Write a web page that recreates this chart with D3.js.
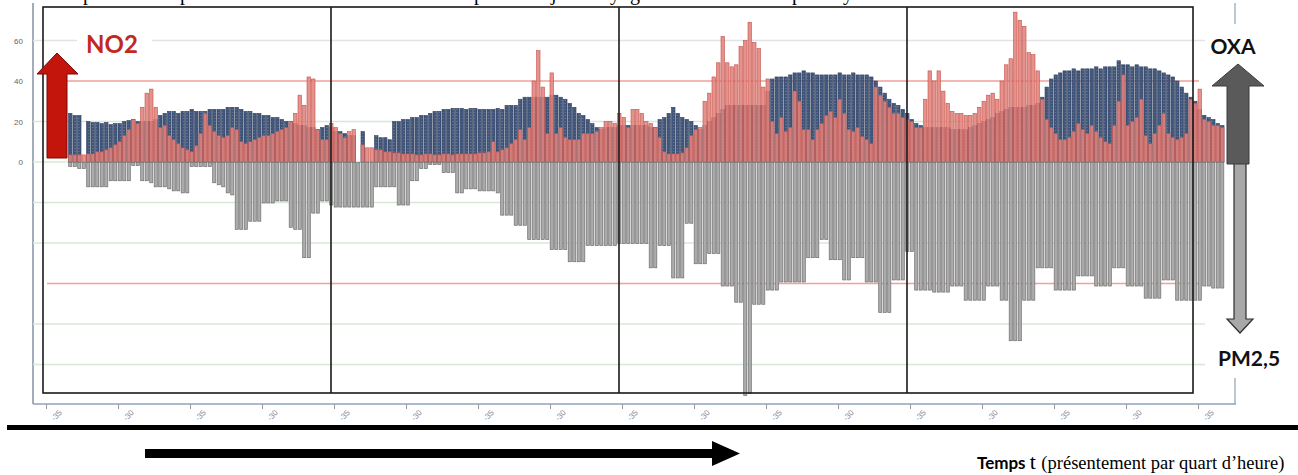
<!DOCTYPE html>
<html><head><meta charset="utf-8">
<script src="https://cdn.jsdelivr.net/npm/d3@7"></script>
<style>html,body{margin:0;padding:0;background:#fff;overflow:hidden}</style>
</head><body>
<svg id="chart" width="1298" height="475"></svg>
<script>
// ---- DATA (one value per quarter-hour bar) ----
const no2 = [
 null,null,null,null,null,3.5,3.5,3.5,3.5,4,4,5,5,6,7,8.5,
 10,13,16,21,19,27,34,36,27,17,18,13,11,9,7,6,
 5,8,14,24,18,15,13,12,13,17,16,10,9,10,11,12,
 13,13,14,15,16,17,20,24,33,28,42,41,16,11,11,19,
 17,14,12,15,16,null,8.5,7,7,6,6,5,5,4.5,4.5,4,
 4,4,3.5,3.5,4,4,3.5,3.5,4,4,3.5,4,4,4,4,4,
 4.5,4.5,5,10,5,6,7,9,11,16,11,17,40,55,37,14,
 44,14,17,12,11,11,11,14,14,14,15,17,20,20,19,24,
 22,17,26,26,24,20,19,17,12,5,4,4,4,4.5,7,13,
 16,17,30,34,42,49,62,49,47,48,57,60,69,59,56,37,
 41,20,14,22,15,17,35,30,16,16,11,16,19,23,25,22,
 31,24,16,15,17,12.5,11,9,37,33,30,27,24,24,22,21,
 20,17,17,31,45,40,45,35,29,25,24,24,23,23,24,27,
 30,33,34,31,40,48,51,74,70,67,54,53,45,31,21,17,
 14,11,11,12,15,19,16,14,18,15,12,10,9,18,30,43,
 18,20,22,31,13,9,14,18,24,14,12,11,12,14,31,29,
 36,21,20,18,18,17
];
const oxa = [
 null,null,null,null,null,24,23,23,null,20,19.5,19.5,19,19.5,18.5,19,
 19,20,20.5,21,20,20,20,20,21,23,24,25,25,24,25,25,
 26,25,25,25,26,26,26,26,27,27,27,26,25,25,24,24,
 23,23,22,22,21,20,20,19,18,18,17,17,16,17,18,17,
 15,15,14,13,13,null,15,null,null,13,12,12,11,20,20,21,
 21,22,22,23,23,24,25,25,26,26,26.5,26.5,26.5,26,26.5,26.5,
 26,26,26,26,26.5,26,28,28,28,31,32,32,32,32,32,32,
 33,33,32,31,29,27,24,23,21,19,17,16,17,17,17,18,
 18,18,18,18,18,18,17,17,21,22,24,27,24,22,21,20,
 18,16,18,20,22,24,26,28,28,28,28,28,28,28,28,28,
 35,41,42,42,42,43,44,44,45,44,44,43,43,43,43,43,
 44,43,43,44,43,43,43,42,40,37,34,31,29,28,26,24,
 21,19,18,17,17,17,17,17,17,16,16,16,16,17,18,19,
 20,21,22,24,25,26,27,27,27,27,28,28,29,32,37,41,
 43,44,45,45,46,45,46,46,46,47,46,47,47,47,50,48,
 48,47,48,47,47,46,46,45,44,43,42,40,37,34,32,30,
 26,23,22,21,19,18
];
const pm25 = [
 null,null,null,null,null,2,2,3,3,12,12,12,12,12,9,9,
 9,9,9,1.5,1.5,9,9,10,12,12,12,13,14,14,15,15,
 2,2,2,2,2,10,11,12,15,16,33,33,33,29,29,29,
 20,20,20,19,19,19,32,33,33,47,47,25,25,19,19,21,
 22,22,22,22,22,22,22,22,22,12,12,12,12,12,21,21,
 21,9,9,3,3,1,1,1,5,5,5,15,15,13,13,13,
 14,14,14,14,15,26,26,26,31,31,31,38,38,38,38,38,
 43,43,43,43,49,49,49,49,41,41,41,41,41,41,41,40,
 40,40,40,40,40,40,52,52,41,41,41,57,57,57,30,30,
 50,50,50,45,45,45,61,61,61,69,69,115,114,70,70,70,
 63,63,63,59,59,59,59,59,59,47,47,47,38,38,48,48,
 48,58,58,47,47,47,59,59,59,74,74,74,58,58,58,44,
 44,63,63,63,63,64,64,64,64,61,61,61,68,68,68,68,
 68,61,61,61,68,68,88,88,88,68,68,68,52,52,52,52,
 63,63,63,63,63,56,56,56,56,61,61,61,61,52,52,52,
 61,61,61,61,67,67,67,67,58,58,58,68,68,68,68,68,
 68,61,61,62,62,62
];
const yTickValues = [60, 40, 20, 0];
const gridValues = [60, 20, 0, -20, -40, -80, -100];
const limitValues = [40, -60];
const xTickIndex = d3.range(0, 257, 16);
const xTickLabels = xTickIndex.map((d,i) => (i % 2 === 0 ? "-35" : "-30"));
const dividerIndex = [64, 128, 192];
const topGlyphs = ["p","p","p","j","y","g","p","y"];
const topGlyphX = [83,180,474,551,610,630,792,843];

// ---- SCALES ----
const svg = d3.select("#chart");
const N = no2.length;
const step = 4.5, x0 = 46;
const x = d3.scaleBand().domain(d3.range(N)).range([x0, x0 + step * (N - 0.22)]).paddingInner(0.22).paddingOuter(0);
const xl = d3.scaleLinear().domain([0, N]).range([x0, x0 + step * N]);
const y = d3.scaleLinear().domain([-100, 60]).range([364.5, 40.5]);

// dotted texture for the OXA bars
const defs = svg.append("defs");
const pat = defs.append("pattern").attr("id","dots").attr("patternUnits","userSpaceOnUse")
  .attr("width",3.5).attr("height",3);
pat.append("rect").attr("width",3.5).attr("height",3).attr("fill","#42567b");
pat.append("circle").attr("cx",1.75).attr("cy",1.5).attr("r",0.55).attr("fill","#7f91b0");

// cut-off title line at the very top
svg.append("g").selectAll("text").data(topGlyphs).join("text")
  .attr("x", (d,i) => topGlyphX[i]).attr("y", 0)
  .attr("font-family", "Liberation Serif").attr("font-size", 20).attr("fill", "#000").text(d => d);

// original chart axis frame
const axisCol = "#8ea3b8";
svg.append("line").attr("x1",33).attr("x2",33).attr("y1",3).attr("y2",404).attr("stroke","#6f8296").attr("stroke-width",1.3);
svg.append("line").attr("x1",33).attr("x2",1236).attr("y1",404).attr("y2",404).attr("stroke",axisCol).attr("stroke-width",1.3);
svg.append("line").attr("x1",1235).attr("x2",1235).attr("y1",3).attr("y2",404).attr("stroke",axisCol).attr("stroke-width",1.2);

// grid
svg.append("g").selectAll("line").data(gridValues).join("line")
  .attr("x1",33).attr("x2",1205).attr("y1",d=>y(d)).attr("y2",d=>y(d))
  .attr("stroke", d => d === 60 ? "#e3e3e3" : "#d8e8d6").attr("stroke-width",1.3);
svg.append("g").selectAll("line").data(limitValues).join("line")
  .attr("x1",47).attr("x2",1199).attr("y1",d=>y(d)).attr("y2",d=>y(d))
  .attr("stroke","#f1a19b").attr("stroke-width",1.3);

// y labels
const yAxis = svg.append("g").attr("transform","translate(25,0)")
  .call(d3.axisLeft(y).tickValues(yTickValues).tickSize(0).tickPadding(2));
yAxis.select(".domain").remove();
yAxis.selectAll("text").attr("font-family","Liberation Sans").attr("font-size",8).attr("fill","#666");

// bars
const bw = x.bandwidth();
svg.append("g").selectAll("rect").data(oxa.map((v,i)=>({v,i})).filter(d=>d.v!=null)).join("rect")
  .attr("x",d=>x(d.i)).attr("width",bw).attr("y",d=>y(d.v)).attr("height",d=>y(0)-y(d.v))
  .attr("fill","url(#dots)").attr("stroke","#33425f").attr("stroke-width",0.6);
svg.append("g").selectAll("rect").data(no2.map((v,i)=>({v,i})).filter(d=>d.v!=null)).join("rect")
  .attr("x",d=>x(d.i)).attr("width",bw).attr("y",d=>y(d.v)).attr("height",d=>y(0)-y(d.v))
  .attr("fill","#e3837c").attr("fill-opacity",0.88).attr("stroke","#c4524b").attr("stroke-width",0.6);
svg.append("g").selectAll("rect").data(pm25.map((v,i)=>({v,i})).filter(d=>d.v!=null)).join("rect")
  .attr("x",d=>x(d.i)+0.2).attr("width",bw-0.4).attr("y",y(0)+0.5).attr("height",d=>y(-d.v)-y(0))
  .attr("fill","#acacac").attr("stroke","#6e6e6e").attr("stroke-width",0.7);

// bottom axis ticks + rotated labels
const xAxis = svg.append("g").attr("transform","translate(0,404)")
  .call(d3.axisBottom(xl).tickValues(xTickIndex).tickSize(5).tickPadding(4).tickFormat((d,i)=>xTickLabels[i]));
xAxis.select(".domain").remove();
xAxis.selectAll("line").attr("stroke","#9a9a9a");
xAxis.selectAll("text").attr("font-family","Liberation Sans").attr("font-size",8).attr("fill","#888")
  .attr("text-anchor","end").attr("transform","rotate(-45)").attr("dx","0.6em").attr("dy","1.1em");

// annotation frame + dividers
const fL = xl(0) - 3, fR = xl(256) - 5, fT = 7, fB = 393;
svg.append("rect").attr("x",fL).attr("y",fT).attr("width",fR-fL).attr("height",fB-fT)
  .attr("fill","none").attr("stroke","#1a1a1a").attr("stroke-width",1.6);
svg.append("g").selectAll("line").data(dividerIndex).join("line")
  .attr("x1",d=>xl(d)-3).attr("x2",d=>xl(d)-3).attr("y1",fT).attr("y2",fB)
  .attr("stroke","#1a1a1a").attr("stroke-width",1.6);

// NO2 annotation
svg.append("rect").attr("x",77).attr("y",27).attr("width",75).attr("height",30).attr("fill","#fff");
svg.append("text").attr("x",86).attr("y",53).attr("font-family","Lato").attr("font-weight",700)
  .attr("font-size",24).attr("fill","#c2291c").text("NO2");
svg.append("path").attr("d","M57,53 L78,74 L67,74 L67,158 L47,158 L47,74 L37,74 Z")
  .attr("fill","#c3150b").attr("stroke","#7a0a05").attr("stroke-width",1);

// OXA / PM2,5 annotation
svg.append("rect").attr("x",1226).attr("y",24).attr("width",64).attr("height",354).attr("fill","#fff");
svg.append("text").attr("x",1233).attr("y",54).attr("text-anchor","middle").attr("font-family","Lato")
  .attr("font-weight",700).attr("font-size",21).attr("fill","#111").text("OXA");
svg.append("path").attr("d","M1240,333 L1253,319 L1246,319 L1246,163 L1234,163 L1234,319 L1227,319 Z")
  .attr("fill","#a8a8a8").attr("stroke","#2d2d2d").attr("stroke-width",1.2);
svg.append("path").attr("d","M1238,64 L1264,86 L1249,86 L1249,164 L1227,164 L1227,86 L1212,86 Z")
  .attr("fill","#5a5a5a").attr("stroke","#3a3a3a").attr("stroke-width",1);
svg.append("text").attr("x",1218).attr("y",366).attr("font-family","Lato")
  .attr("font-weight",700).attr("font-size",21).attr("fill","#111").text("PM2,5");

// bottom rule, time arrow and caption
svg.append("rect").attr("x",7).attr("y",425).attr("width",1291).attr("height",5).attr("fill","#000");
svg.append("rect").attr("x",145).attr("y",449).attr("width",570).attr("height",9).attr("fill","#000");
svg.append("path").attr("d","M712,441 L740,453.5 L712,466 Z").attr("fill","#000");
const cap = svg.append("text").attr("x",977).attr("y",469).attr("fill","#000");
cap.append("tspan").attr("font-family","Lato").attr("font-weight",700).attr("font-size",17).text("Temps ");
cap.append("tspan").attr("font-family","Liberation Serif").attr("font-size",22).text("t ");
cap.append("tspan").attr("font-family","Liberation Serif").attr("font-size",18.5).text("(présentement par quart d’heure)");
</script>
</body></html>
